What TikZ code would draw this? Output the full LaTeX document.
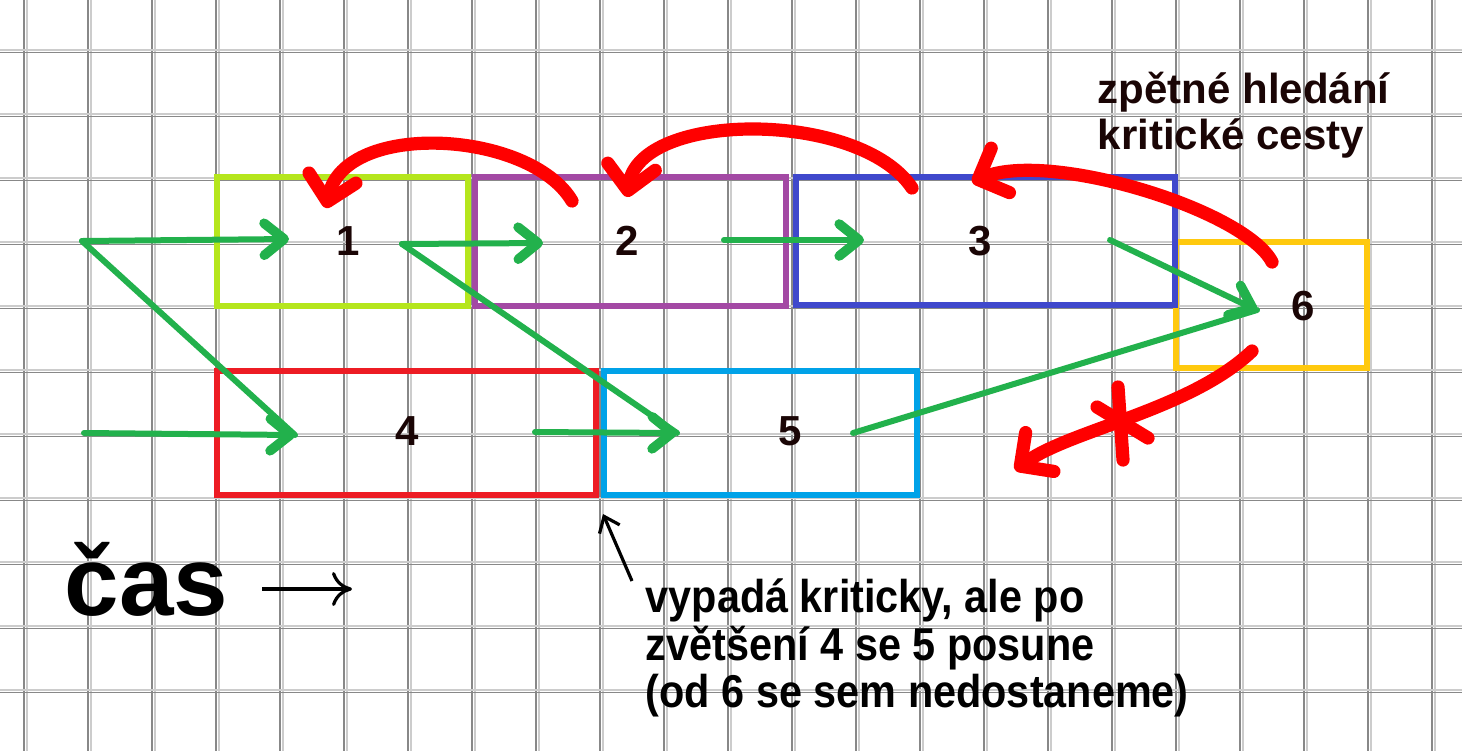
\documentclass[tikz,border=0pt]{standalone}
\usepackage{fontspec}
\setmainfont{Liberation Sans}
\newfontfamily\notefont[FakeStretch=0.9]{Liberation Sans}
\usetikzlibrary{arrows.meta}
\definecolor{gridd}{HTML}{888888}
\definecolor{gridl}{HTML}{CCCCCC}
\definecolor{pgreen}{HTML}{22B14C}
\definecolor{plime}{HTML}{B5E61D}
\definecolor{ppurple}{HTML}{A349A4}
\definecolor{pindigo}{HTML}{3F48CC}
\definecolor{pgold}{HTML}{FFC90E}
\definecolor{pred}{HTML}{ED1C24}
\definecolor{pturq}{HTML}{00A2E8}
\definecolor{pen}{HTML}{FF0000}
\definecolor{ink}{HTML}{1A0505}

\begin{document}
\begin{tikzpicture}[x=0.25pt,y=-0.25pt,
    box/.style={line width=1.5pt},
    num/.style={inner sep=0pt,text=ink,font=\fontsize{10.5}{12}\selectfont\bfseries},
    fwd/.style={draw=pgreen,line width=1.5pt,line cap=round,
        -{Straight Barb[length=5pt,width=8pt,line width=2.4pt,round]}},
    back/.style={draw=pen,line width=3.3pt,line cap=round,
        -{Straight Barb[length=6pt,width=12pt,round]}}]
    \useasboundingbox (0,0) rectangle (1462,751);
    \fill[white] (0,0) rectangle (1462,751);
    % Grid
    \foreach \x in {24,88,...,1432} {
        \draw[gridd,line width=0.3pt] (\x,0) -- (\x,751);
        \draw[gridl,line width=0.3pt] ({\x+3},0) -- ({\x+3},751);
    }
    \foreach \y in {51,115,...,691} {
        \draw[gridl,line width=0.3pt] (0,{\y-1}) -- (1462,{\y-1});
        \draw[gridd,line width=0.3pt] (0,{\y+1.5}) -- (1462,{\y+1.5});
    }
    % Boxes
    \draw[box,plime] (217,177) rectangle (468,306);
    \draw[box,ppurple] (475,177) rectangle (786,306);
    \draw[box,pgold] (1176,242) rectangle (1367,368);
    \draw[box,pindigo] (796,177) rectangle (1175,305);
    \draw[box,pred] (217,371) rectangle (596,495);
    \draw[box,pturq] (604,371) rectangle (917,495);
    % Labels in boxes
    \node[num] (n1) at (348,241) {1};
    \node[num] (n2) at (627,241) {2};
    \node[num] (n3) at (980,241) {3};
    \node[num] (n4) at (407,431) {4};
    \node[num] (n5) at (790,431) {5};
    \node[num] (n6) at (1303,306) {6};
    % Green arrows
    \coordinate (s0) at (82,241);
    \coordinate (s0b) at (84,433);
    \coordinate (h1) at (289,239);
    \coordinate (h4) at (295,435);
    \coordinate (s1) at (402,244);
    \coordinate (h2) at (543,243);
    \coordinate (s4) at (535,432);
    \coordinate (h5) at (677,433);
    \coordinate (s2) at (724,240);
    \coordinate (h3) at (864,240);
    \coordinate (s3) at (1110,240);
    \coordinate (s5) at (853,433);
    \coordinate (h6) at (1257,310);
    \draw[fwd] (s0) -- (h1);
    \draw[fwd,-] (s0) -- (h4);
    \draw[fwd] (s0b) -- (h4);
    \draw[fwd] (s1) -- (h2);
    \draw[fwd,-] (s1) -- (h5);
    \draw[fwd] (s4) -- (h5);
    \draw[fwd] (s2) -- (h3);
    \draw[fwd,-] (s5) -- (h6);
    \draw[fwd] (s3) -- (1250,307) -- (h6);
    % Red arrows
    \coordinate (r2) at (572,201);
    \coordinate (r1) at (326,208);
    \coordinate (r3) at (912,188);
    \coordinate (r2b) at (627,197);
    \coordinate (r6) at (1272,262);
    \coordinate (r3b) at (972,182);
    \coordinate (r6b) at (1252,351);
    \coordinate (rx) at (1015,470);
    \draw[back] (r2) .. controls (530,130) and (345,120) .. (r1);
    \draw[back] (r3) .. controls (860,110) and (640,110) .. (r2b);
    \draw[back] (r6) .. controls (1245,210) and (1050,150) .. (r3b);
    \draw[back] (r6b) .. controls (1190,410) and (1070,430) .. (rx);
    % Cross
    \draw[draw=pen,line width=3.3pt,line cap=round] (1118,387) -- (1123,460);
    \draw[draw=pen,line width=3.3pt,line cap=round] (1097,407) -- (1148,438);
    % Texts
    \node[inner sep=0pt,anchor=base west,text=ink,font=\fontsize{10.5}{12}\selectfont\bfseries] (t1) at (1097,103) {zpětné hledání};
    \node[inner sep=0pt,anchor=base west,text=ink,font=\fontsize{10.5}{12}\selectfont\bfseries] (t2) at (1097,149) {kritické cesty};
    \node[inner sep=0pt,anchor=base west,font=\fontsize{24.5}{28}\selectfont\bfseries] (cas) at (64,615) {čas};
    \coordinate (ca) at (262,589);
    \coordinate (cb) at (352,589);
    \draw[line width=0.8pt,-{To[length=5pt,width=8.5pt]}] (ca) -- (cb);
    \node[inner sep=0pt,anchor=base west,font=\notefont\fontsize{11.5}{12}\selectfont\bfseries] (a1) at (645,612) {vypadá kriticky, ale po};
    \node[inner sep=0pt,anchor=base west,font=\notefont\fontsize{11.5}{12}\selectfont\bfseries] (a2) at (645,660) {zvětšení 4 se 5 posune};
    \node[inner sep=0pt,anchor=base west,font=\notefont\fontsize{11.5}{12}\selectfont\bfseries] (a3) at (645,707) {(od 6 se sem nedostaneme)};
    \coordinate (pa) at (632,581);
    \coordinate (pb) at (603,514);
    \draw[line width=0.8pt,-{Straight Barb[length=3.5pt,width=5.5pt]}] (pa) -- (pb);
\end{tikzpicture}
\end{document}
